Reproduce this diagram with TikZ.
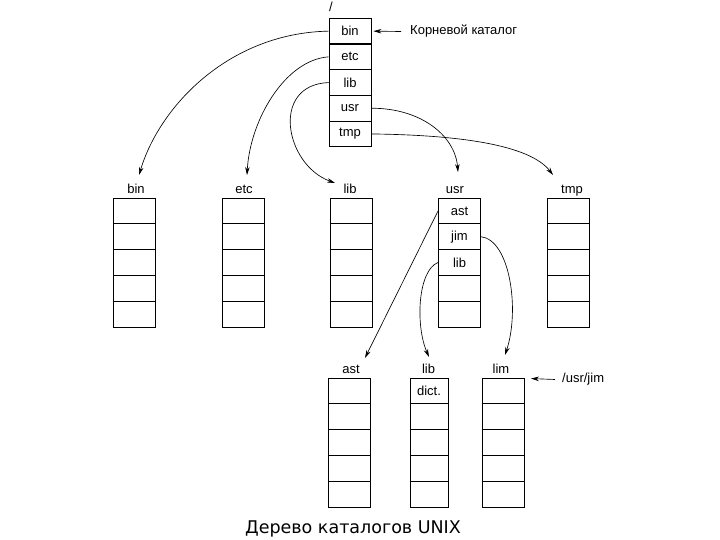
\documentclass[tikz,border=0pt]{standalone}
\usepackage{fontspec}
\setmainfont{Liberation Sans}
\newfontfamily\capfont{DejaVu Sans}
\usetikzlibrary{arrows.meta}
\begin{document}
\begin{tikzpicture}[x=1pt,y=-1pt,
  cell/.style={draw,line width=0.9pt,minimum width=42pt,minimum height=25.8pt,inner sep=0pt,font=\fontsize{13}{15}\selectfont},
  lbl/.style={inner sep=1pt,anchor=base,font=\fontsize{13}{15}\selectfont},
  arr/.style={-{Stealth[length=8pt,width=4.5pt]},line width=0.65pt},
]
\useasboundingbox[fill=white] (0,0) rectangle (720,540);

% root directory
\node[lbl] (slash) at (331,12) {/};
\foreach \i/\t in {1/bin,2/etc,3/lib,4/usr,5/tmp}
  \node[cell] (r\i) at (350,{18.3+25.7*(\i-0.5)}) {\t};
\node[lbl,anchor=west] (kk) at (409,31.5) {Корневой каталог};

% second level
\foreach \c/\x in {b/134,e/243,l/351,t/568.5}
  \foreach \i in {1,...,5}
    \node[cell] (\c\i) at (\x,{198+25.8*(\i-0.5)}) {};
\foreach \i/\t in {1/ast,2/jim,3/lib,4/,5/}
  \node[cell] (u\i) at (459.5,{198+25.8*(\i-0.5)}) {\t};
\node[lbl] (lbin) at (136,194) {bin};
\node[lbl] (letc) at (244,194) {etc};
\node[lbl] (llib) at (350,194) {lib};
\node[lbl] (lusr) at (455,194) {usr};
\node[lbl] (ltmp) at (572,194) {tmp};

% third level
\foreach \i in {1,...,5} {
  \node[cell] (a\i) at (349,{378+25.8*(\i-0.5)}) {};
  \node[cell] (m\i) at (503.5,{378+25.8*(\i-0.5)}) {};
}
\foreach \i/\t in {1/dict.,2/,3/,4/,5/}
  \node[cell,minimum width=38pt] (d\i) at (429,{378+25.8*(\i-0.5)}) {\t};
\node[lbl] (last) at (351,373.5) {ast};
\node[lbl] (ld) at (428.5,373.5) {lib};
\node[lbl] (lm) at (501,373.5) {lim};
\node[lbl,anchor=west] (uj) at (561,379.5) {/usr/jim};

% caption
\node[inner sep=0pt,anchor=base,font=\capfont\fontsize{17.5}{20}\selectfont] (cap) at (353,533) {Дерево каталогов UNIX};

% connectors
\draw[arr] (r1.west) .. controls (230,33) and (160,105) .. ([xshift=3pt,yshift=19pt]lbin.base);
\draw[arr] (r2.west) .. controls (285,60) and (250,120) .. ([xshift=3pt,yshift=19pt]letc.base);
\draw[arr] (r3.west) .. controls (270,85) and (285,165) .. ([xshift=-15pt,yshift=11pt]llib.base);
\draw[arr] (r4.east) .. controls (420,108) and (455,135) .. ([xshift=3pt,yshift=22pt]lusr.base);
\draw[arr] (r5.east) .. controls (460,135) and (530,145) .. ([xshift=-19pt,yshift=19pt]ltmp.base);
\draw[arr] ([xshift=-8pt]kk.west) -- ([xshift=2pt]r1.east);
\draw[arr] (u1.west) -- ([xshift=14pt,yshift=15.5pt]last.base);
\draw[arr] (u3.west) .. controls (418,270) and (415,325) .. ([xshift=0.5pt,yshift=16.5pt]ld.base);
\draw[arr] (u2.east) .. controls (510,240) and (520,310) .. ([xshift=4pt,yshift=18.5pt]lm.base);
\draw[arr] ([xshift=-6pt]uj.west) -- ([xshift=6pt,yshift=-1pt]m1.north east);
\end{tikzpicture}
\end{document}
